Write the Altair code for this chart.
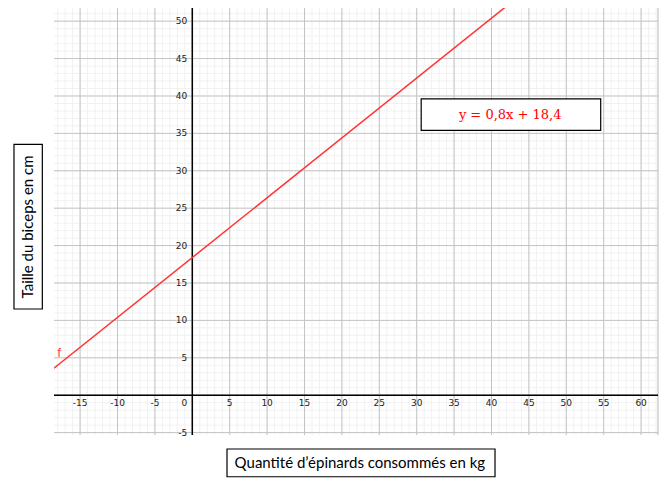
import altair as alt
import pandas as pd

# Domain (units) of the graph area
x_domain = [-18.49, 62.26]
y_domain = [-5.32, 51.76]

# grid positions
minor_x = list(range(-18, 63))
major_x = list(range(-15, 61, 5))
minor_y = list(range(-5, 52))
major_y = list(range(-5, 51, 5))

# tick labels
x_ticks = [-15, -10, -5, 5, 10, 15, 20, 25, 30, 35, 40, 45, 50, 55, 60]
y_ticks = [-5, 5, 10, 15, 20, 25, 30, 35, 40, 45, 50]

# line f : y = 0.8x + 18.4 (end points)
line_x = [-18.5, 42.5]
line_y = [3.6, 52.4]

equation = "y = 0,8x + 18,4"
x_title = "Quantité d’épinards consommés en kg"
y_title = "Taille du biceps en cm"

xs = alt.Scale(domain=x_domain, nice=False, zero=False)
ys = alt.Scale(domain=y_domain, nice=False, zero=False)

def X(field="x"):
    return alt.X(f"{field}:Q", scale=xs, axis=None)

def Y(field="y"):
    return alt.Y(f"{field}:Q", scale=ys, axis=None)

minor_v = alt.Chart(pd.DataFrame({"x": minor_x})).mark_rule(color="#f1f1f1", strokeWidth=1).encode(x=X())
minor_h = alt.Chart(pd.DataFrame({"y": minor_y})).mark_rule(color="#f1f1f1", strokeWidth=1).encode(y=Y())
major_v = alt.Chart(pd.DataFrame({"x": major_x})).mark_rule(color="#c4c4c4", strokeWidth=1).encode(x=X())
major_h = alt.Chart(pd.DataFrame({"y": major_y})).mark_rule(color="#c4c4c4", strokeWidth=1).encode(y=Y())
border = alt.Chart(pd.DataFrame({"x": [x_domain[1]]})).mark_rule(color="#b8b8b8", strokeWidth=1).encode(x=X())

axis_v = alt.Chart(pd.DataFrame({"x": [0]})).mark_rule(color="black", strokeWidth=1.5).encode(x=X())
axis_h = alt.Chart(pd.DataFrame({"y": [0]})).mark_rule(color="black", strokeWidth=1.5).encode(y=Y())

lab_font = "DejaVu Sans"
xlab = alt.Chart(pd.DataFrame({"x": x_ticks, "y": [0] * len(x_ticks), "t": [str(v) for v in x_ticks]})).mark_text(
    fontSize=9, font=lab_font, color="#222222", align="center", baseline="middle", dy=8
).encode(x=X(), y=Y(), text="t:N")
ylab = alt.Chart(pd.DataFrame({"x": [0] * len(y_ticks), "y": y_ticks, "t": [str(v) for v in y_ticks]})).mark_text(
    fontSize=9, font=lab_font, color="#222222", align="right", baseline="middle", dx=-5
).encode(x=X(), y=Y(), text="t:N")
olab = alt.Chart(pd.DataFrame({"x": [0], "y": [0], "t": ["0"]})).mark_text(
    fontSize=9, font=lab_font, color="#222222", align="right", baseline="middle", dx=-5, dy=8
).encode(x=X(), y=Y(), text="t:N")

fline = alt.Chart(pd.DataFrame({"x": line_x, "y": line_y})).mark_line(
    color="#ff3535", strokeWidth=1.5, clip=True
).encode(x=X(), y=Y())
flab = alt.Chart(pd.DataFrame({"x": [-17.8], "y": [5.6], "t": ["f"]})).mark_text(
    fontSize=12, font="Liberation Sans", color="#ff3535", align="center", baseline="middle"
).encode(x=X(), y=Y(), text="t:N")

eq_box = alt.Chart(pd.DataFrame({"x": [30.6], "x2": [54.6], "y": [39.6], "y2": [35.4]})).mark_rect(
    fill="white", stroke="black", strokeWidth=1.2
).encode(x=X(), x2="x2:Q", y=Y(), y2="y2:Q")
eq_txt = alt.Chart(pd.DataFrame({"x": [42.5], "y": [37.5], "t": [equation]})).mark_text(
    fontSize=13, font="DejaVu Serif", color="#ff0000", align="center", baseline="middle"
).encode(x=X(), y=Y(), text="t:N")

xt_box = alt.Chart(pd.DataFrame({"x": [4.64], "x2": [40.47], "y": [-7.19], "y2": [-10.90]})).mark_rect(
    fill="white", stroke="black", strokeWidth=1.2
).encode(x=X(), x2="x2:Q", y=Y(), y2="y2:Q")
xt_txt = alt.Chart(pd.DataFrame({"x": [22.4], "y": [-9.06], "t": [x_title]})).mark_text(
    fontSize=15, font="Lato", color="black", align="center", baseline="middle"
).encode(x=X(), y=Y(), text="t:N")

yt_box = alt.Chart(pd.DataFrame({"x": [-23.84], "x2": [-20.05], "y": [33.54], "y2": [11.52]})).mark_rect(
    fill="white", stroke="black", strokeWidth=1.2
).encode(x=X(), x2="x2:Q", y=Y(), y2="y2:Q")
yt_txt = alt.Chart(pd.DataFrame({"x": [-21.96], "y": [22.49], "t": [y_title]})).mark_text(
    fontSize=15, font="Lato", color="black", align="center", baseline="middle", angle=270
).encode(x=X(), y=Y(), text="t:N")

chart = alt.layer(
    minor_v, minor_h, major_v, major_h, border, axis_v, axis_h,
    xlab, ylab, olab, fline, flab, eq_box, eq_txt, xt_box, xt_txt, yt_box, yt_txt
).properties(
    width=604, height=427,
    autosize=alt.AutoSizeParams(type="none"),
    padding={"left": 46, "top": 0, "right": 1, "bottom": 44},
    background="white",
).configure_view(stroke=None)

chart.save("out.html", embed_options={"renderer": "svg", "actions": False})
